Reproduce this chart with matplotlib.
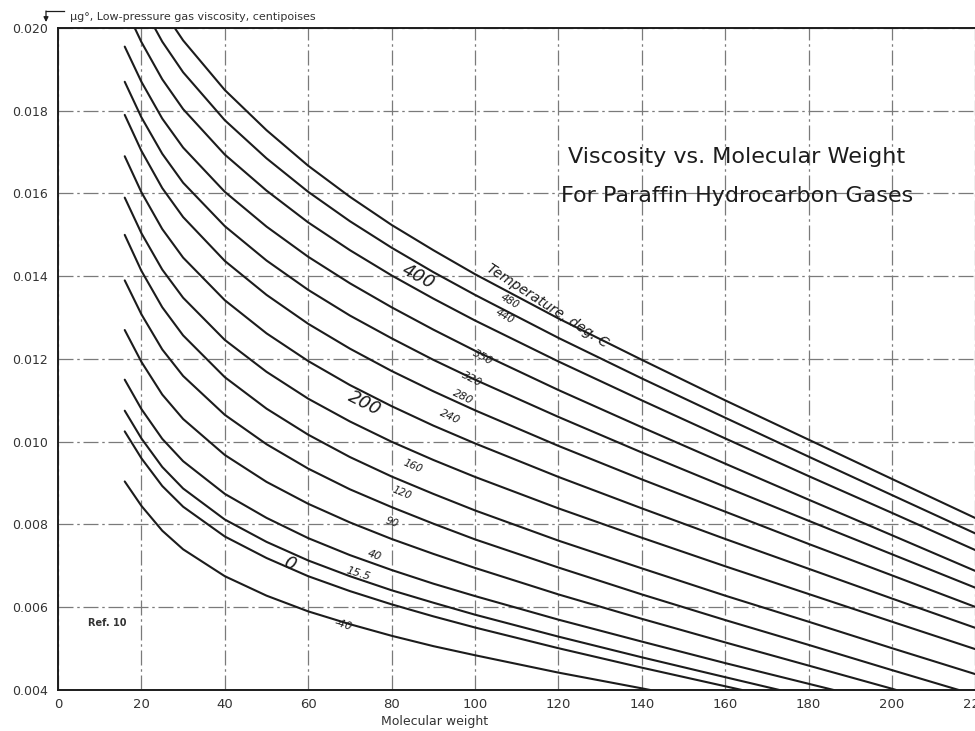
import matplotlib
matplotlib.use("Agg")
import matplotlib.pyplot as plt
from matplotlib.lines import Line2D

# ---- data: low-pressure viscosity (cP) vs molecular weight, one list pair per temperature ----
temp_labels = ["-40", "0", "15.5", "40", "90", "120", "160", "200",
               "240", "280", "320", "350", "400", "440", "480"]

grid_mw = [16, 20, 25, 30, 40, 50, 60, 70, 80, 90, 100, 120, 140, 160, 180, 200, 222]

mw_m40 = [16, 20, 25, 30, 40, 50, 60, 70, 80, 90, 100, 120, 140, 142]
visc_m40 = [.00904, .00845, .00785, .00740, .00675, .00628, .00590, .00559, .00531,
            .00506, .00484, .00442, .00404, .00400]

mw_0 = [16, 20, 25, 30, 40, 50, 60, 70, 80, 90, 100, 120, 140, 160, 164]
visc_0 = [.01025, .00960, .00893, .00843, .00771, .00719, .00675, .00639, .00607,
          .00578, .00551, .00501, .00454, .00409, .00400]

mw_15 = [16, 20, 25, 30, 40, 50, 60, 70, 80, 90, 100, 120, 140, 160, 173]
visc_15 = [.01075, .01008, .00939, .00887, .00812, .00758, .00713, .00675, .00641,
           .00611, .00582, .00529, .00479, .00431, .00400]

mw_40 = [16, 20, 25, 30, 40, 50, 60, 70, 80, 90, 100, 120, 140, 160, 180, 186]
visc_40 = [.01150, .01079, .01007, .00953, .00874, .00816, .00767, .00726, .00690,
           .00657, .00627, .00570, .00517, .00465, .00415, .00400]

mw_90 = [16, 20, 25, 30, 40, 50, 60, 70, 80, 90, 100, 120, 140, 160, 180, 200, 201]
visc_90 = [.01270, .01193, .01114, .01055, .00968, .00903, .00850, .00805, .00765,
           .00729, .00695, .00631, .00572, .00515, .00459, .00403, .00400]

mw_120 = [16, 20, 25, 30, 40, 50, 60, 70, 80, 90, 100, 120, 140, 160, 180, 200, 216]
visc_120 = [.01390, .01308, .01223, .01159, .01065, .00994, .00935, .00885, .00842,
            .00802, .00764, .00696, .00631, .00569, .00509, .00448, .00400]

visc_160 = [.01500, .01413, .01325, .01257, .01156, .01080, .01017, .00963, .00916,
            .00874, .00834, .00761, .00694, .00628, .00565, .00501, .00432]
visc_200 = [.01590, .01504, .01416, .01348, .01246, .01169, .01104, .01049, .01000,
            .00956, .00915, .00839, .00768, .00699, .00632, .00565, .00492]
visc_240 = [.01690, .01603, .01514, .01445, .01342, .01262, .01195, .01137, .01086,
            .01039, .00996, .00915, .00839, .00765, .00693, .00621, .00543]
visc_280 = [.01790, .01703, .01613, .01543, .01437, .01355, .01285, .01225, .01171,
            .01122, .01076, .00990, .00909, .00831, .00753, .00677, .00593]
visc_320 = [.01870, .01784, .01696, .01626, .01521, .01438, .01367, .01305, .01250,
            .01198, .01150, .01060, .00974, .00891, .00809, .00728, .00639]
visc_350 = [.01955, .01870, .01781, .01711, .01604, .01520, .01447, .01383, .01325,
            .01271, .01220, .01125, .01035, .00947, .00860, .00774, .00679]

mw_400 = [18.4, 20, 25, 30, 40, 50, 60, 70, 80, 90, 100, 120, 140, 160, 180, 200, 222]
visc_400 = [.02000, .01966, .01876, .01804, .01694, .01607, .01530, .01463, .01402,
            .01346, .01293, .01194, .01100, .01008, .00917, .00828, .00729]

mw_440 = [23.2, 25, 30, 40, 50, 60, 70, 80, 90, 100, 120, 140, 160, 180, 200, 222]
visc_440 = [.02000, .01967, .01893, .01777, .01685, .01604, .01533, .01469, .01410,
            .01355, .01251, .01153, .01058, .00964, .00871, .00769]

mw_480 = [28, 30, 40, 50, 60, 70, 80, 90, 100, 120, 140, 160, 180, 200, 222]
visc_480 = [.02000, .01970, .01850, .01753, .01667, .01592, .01524, .01463, .01405,
            .01298, .01198, .01100, .01005, .00910, .00806]

x_ticks = [0, 20, 40, 60, 80, 100, 120, 140, 160, 180, 200, 220]
y_ticks = [0.004, 0.006, 0.008, 0.010, 0.012, 0.014, 0.016, 0.018, 0.020]
y_tick_labels = ["0.004", "0.006", "0.008", "0.010", "0.012", "0.014", "0.016", "0.018", "0.020"]

curves = [
    (mw_m40, visc_m40), (mw_0, visc_0), (mw_15, visc_15), (mw_40, visc_40),
    (mw_90, visc_90), (mw_120, visc_120), (grid_mw, visc_160), (grid_mw, visc_200),
    (grid_mw, visc_240), (grid_mw, visc_280), (grid_mw, visc_320), (grid_mw, visc_350),
    (mw_400, visc_400), (mw_440, visc_440), (mw_480, visc_480),
]

# ---- figure ----
ink = "#1c1c1c"
fig = plt.figure(figsize=(9.75, 7.31), dpi=100)
ax = fig.add_axes([0.0595, 0.0561, 0.9495, 0.9056])
ax.set_xlim(0, 222)
ax.set_ylim(0.004, 0.020)

ax.grid(True, color="#7a7a7a", lw=0.9, linestyle=(0, (12, 3, 2, 3)), zorder=1)
ax.set_xticks(x_ticks)
ax.set_xticklabels([str(v) for v in x_ticks], fontsize=9.5, color="#333333")
ax.set_yticks(y_ticks)
ax.set_yticklabels(y_tick_labels, fontsize=9, color="#333333")
ax.tick_params(axis="both", length=0)
ax.tick_params(axis="x", pad=6)
ax.tick_params(axis="y", pad=7)

for side in ("left", "bottom", "top"):
    ax.spines[side].set_color(ink)
    ax.spines[side].set_linewidth(1.4)
ax.spines["right"].set_visible(False)

for mw, visc in curves:
    ax.plot(mw, visc, color=ink, lw=1.5, solid_capstyle="round",
            solid_joinstyle="round", zorder=3)

# ---- curve labels ----
label_pos = {
    "-40": (68.3, 0.00557, -17, 8), "0": (55.6, 0.00706, -24, 13),
    "15.5": (72.0, 0.00682, -17, 8), "40": (76.0, 0.00725, -18, 8),
    "90": (80.1, 0.00805, -20, 7.5), "120": (82.5, 0.00876, -22, 7.5),
    "160": (85.1, 0.00942, -23, 7.5), "200": (73.6, 0.01092, -27, 13),
    "240": (94.0, 0.01060, -25, 8), "280": (97.1, 0.01108, -26, 8),
    "320": (99.3, 0.01152, -27, 8), "350": (101.9, 0.01205, -28, 8),
    "400": (86.3, 0.01398, -28, 13), "440": (107.2, 0.01304, -30, 7.5),
    "480": (108.4, 0.01340, -30, 7.5),
}
for lab in temp_labels:
    x, y, rot, size = label_pos[lab]
    ax.text(x, y, lab, rotation=rot, fontsize=size, style="italic", color=ink,
            ha="center", va="center", rotation_mode="anchor", zorder=4)

ax.text(117.3, 0.01328, "Temperature, deg. C", rotation=-33, fontsize=10, style="italic",
        color=ink, ha="center", va="center", rotation_mode="anchor", zorder=4)

ax.text(162.8, 0.01687, "Viscosity vs. Molecular Weight", fontsize=16, color=ink,
        ha="center", va="center", zorder=4)
ax.text(162.8, 0.01593, "For Paraffin Hydrocarbon Gases", fontsize=16, color=ink,
        ha="center", va="center", zorder=4)

ax.text(11.8, 0.00561, "Ref. 10", fontsize=7, fontweight="bold", color="#333333",
        ha="center", va="center", zorder=4)

# ---- axis titles ----
fig.text(435 / 975, 1 - 722 / 731, "Molecular weight", fontsize=9, color="#333333",
         ha="center", va="center")
fig.text(70 / 975, 1 - 17 / 731, "μg°, Low-pressure gas viscosity, centipoises",
         fontsize=8, color="#333333", ha="left", va="center")
fig.add_artist(Line2D([46 / 975, 64 / 975], [1 - 11 / 731, 1 - 11 / 731],
                      transform=fig.transFigure, color=ink, lw=0.9))
ax.annotate("", xy=(46 / 975, 1 - 22 / 731), xytext=(46 / 975, 1 - 11 / 731),
            xycoords="figure fraction", textcoords="figure fraction",
            arrowprops=dict(arrowstyle="-|>", lw=0.9, color=ink, mutation_scale=7,
                            shrinkA=0, shrinkB=0))

fig.savefig("out.png", dpi=100)
